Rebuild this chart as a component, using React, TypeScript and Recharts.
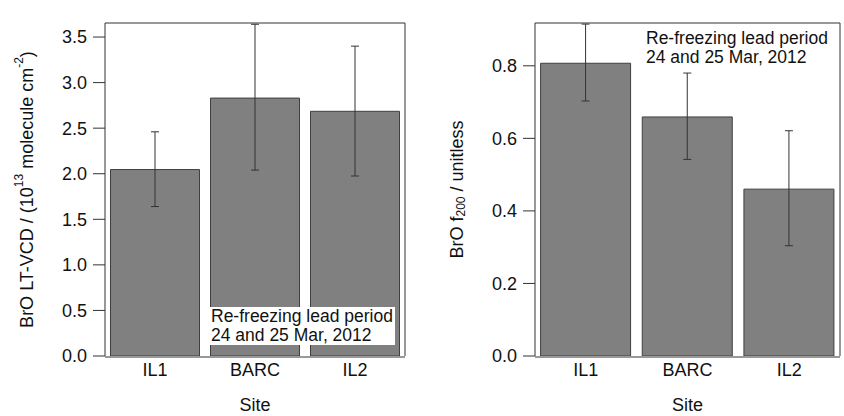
import React from "react";
import { Bar, BarChart, ErrorBar, XAxis, YAxis } from "recharts";

const sites = ["IL1", "BARC", "IL2"];

// BrO LT-VCD (1e13 molecule cm^-2)
const vcdValues = [2.046, 2.83, 2.685];
const vcdLow = [1.64, 2.04, 1.975];
const vcdHigh = [2.46, 3.64, 3.4];
const vcdTicks = [0, 0.5, 1, 1.5, 2, 2.5, 3, 3.5];

// BrO f200 (unitless)
const fValues = [0.807, 0.659, 0.46];
const fLow = [0.703, 0.542, 0.304];
const fHigh = [0.915, 0.78, 0.621];
const fTicks = [0, 0.2, 0.4, 0.6, 0.8];

const edgeTicks = [0, 1, 2, 3];

const FONT = "'Liberation Sans', Arial, Helvetica, sans-serif";
const FRAME = "#333333";

const buildRows = (vals: number[], lo: number[], hi: number[]) =>
  sites.map((site, i) => ({ site, value: vals[i], err: [vals[i] - lo[i], hi[i] - vals[i]] }));

const vcdRows = buildRows(vcdValues, vcdLow, vcdHigh);
const fRows = buildRows(fValues, fLow, fHigh);

function YTitle(props: any) {
  const { viewBox, kind } = props;
  const cx = viewBox.x + viewBox.width - 78;
  const cy = viewBox.y + viewBox.height / 2;
  return (
    <text
      x={cx}
      y={cy}
      transform={`rotate(-90 ${cx} ${cy})`}
      textAnchor="middle"
      dominantBaseline="central"
      fontSize={18}
      fill="#111"
      fontFamily={FONT}
    >
      {kind === "vcd" ? (
        <>
          BrO LT-VCD / (10
          <tspan dy={-8} fontSize={12}>13</tspan>
          <tspan dy={8}> molecule cm</tspan>
          <tspan dy={-8} fontSize={12}>-2</tspan>
          <tspan dy={8}>)</tspan>
        </>
      ) : (
        <>
          BrO f
          <tspan dy={4} fontSize={12}>200</tspan>
          <tspan dy={-4}> / unitless</tspan>
        </>
      )}
    </text>
  );
}

function XTitle(props: any) {
  const { viewBox } = props;
  return (
    <text
      x={viewBox.x + viewBox.width / 2}
      y={viewBox.y + 55}
      textAnchor="middle"
      fontSize={18}
      fill="#111"
      fontFamily={FONT}
    >
      Site
    </text>
  );
}

type PanelProps = {
  rows: { site: string; value: number; err: number[] }[];
  ticks: number[];
  top: number;
  kind: string;
  left: number;
  marginLeft: number;
  marginRight: number;
};

function Panel({ rows, ticks, top, kind, left, marginLeft, marginRight }: PanelProps) {
  const axisStroke = { stroke: FRAME, strokeWidth: 1 };
  return (
    <div style={{ position: "absolute", left, top: 0 }}>
      <BarChart
        width={422}
        height={416}
        data={rows}
        barCategoryGap="5.5%"
        margin={{ top: 22, right: marginRight - 1, bottom: 58, left: marginLeft - 1 }}
      >
        <XAxis
          xAxisId="top"
          orientation="top"
          type="number"
          domain={[0, 3]}
          allowDataOverflow
          ticks={edgeTicks}
          interval={0}
          height={1}
          tick={false}
          tickSize={12}
          tickLine={axisStroke}
          axisLine={axisStroke}
        />
        <XAxis
          xAxisId="edge"
          type="number"
          domain={[0, 3]}
          allowDataOverflow
          ticks={edgeTicks}
          interval={0}
          height={1}
          tick={false}
          tickSize={12}
          tickLine={axisStroke}
          axisLine={axisStroke}
        />
        <XAxis
          xAxisId="cat"
          dataKey="site"
          height={1}
          tickLine={false}
          axisLine={false}
          tickSize={0}
          tickMargin={7}
          interval={0}
          tick={{ fontSize: 18, fill: "#111", fontFamily: FONT }}
          label={<XTitle />}
        />
        <YAxis
          yAxisId="left"
          width={1}
          domain={[0, top]}
          allowDataOverflow
          ticks={ticks}
          interval={0}
          tickSize={12}
          tickMargin={6}
          tickFormatter={(v: number) => v.toFixed(1)}
          tick={{ fontSize: 18, fill: "#111", fontFamily: FONT }}
          tickLine={axisStroke}
          axisLine={axisStroke}
          label={<YTitle kind={kind} />}
        />
        <YAxis
          yAxisId="right"
          orientation="right"
          width={1}
          domain={[0, top]}
          allowDataOverflow
          ticks={ticks}
          interval={0}
          tickSize={12}
          tick={false}
          tickLine={axisStroke}
          axisLine={axisStroke}
        />
        <Bar
          xAxisId="cat"
          yAxisId="left"
          dataKey="value"
          fill="#808080"
          stroke="#3f3f3f"
          strokeWidth={1}
          isAnimationActive={false}
        >
          <ErrorBar dataKey="err" direction="y" width={4} stroke="#333" strokeWidth={1} />
        </Bar>
      </BarChart>
    </div>
  );
}

const noteStyle: React.CSSProperties = {
  position: "absolute",
  fontFamily: FONT,
  fontSize: 17.5,
  lineHeight: "19px",
  color: "#111",
  background: "#fff",
  whiteSpace: "nowrap",
  padding: "0px 2px 0px 1px",
};

export default function App() {
  return (
    <div
      style={{
        position: "absolute",
        left: 0,
        top: 0,
        width: 844,
        height: 416,
        background: "#fff",
        overflow: "hidden",
        fontFamily: FONT,
      }}
    >
      <Panel rows={vcdRows} ticks={vcdTicks} top={3.654} kind="vcd" left={0} marginLeft={105} marginRight={17} />
      <Panel rows={fRows} ticks={fTicks} top={0.918} kind="f" left={422} marginLeft={113} marginRight={4} />
      <div style={{ ...noteStyle, left: 210, top: 307 }}>
        Re-freezing lead period
        <br />
        24 and 25 Mar, 2012
      </div>
      <div style={{ ...noteStyle, left: 645, top: 29, background: "transparent" }}>
        Re-freezing lead period
        <br />
        24 and 25 Mar, 2012
      </div>
    </div>
  );
}
